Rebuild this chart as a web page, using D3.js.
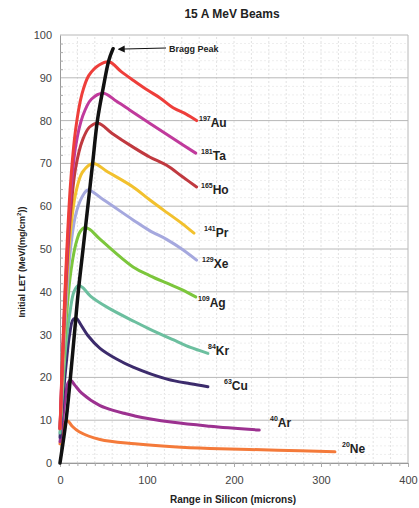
<!DOCTYPE html>
<html lang="en">
<head>
    <meta charset="UTF-8">
    <title>15 A MeV Beams</title>
    <script type="text/javascript" src="https://cdn.jsdelivr.net/npm/d3@7/dist/d3.min.js"></script>
    <style>
        body { margin: 0; background: #fff; }
        text { font-family: "Liberation Sans", Arial, sans-serif; }
    </style>
</head>
<body>

<script>
    let width = 419;
    let height = 508;

    // range (microns) vs initial LET
    var au = [[0, 8], [3, 26], [7, 46], [12, 65], [18, 78], [25, 86], [33, 90.5], [45, 93], [57, 93.7], [70, 91.5], [85, 89.3], [100, 87.2], [115, 85.3], [130, 83], [145, 81.5], [157, 80]];
    var ta = [[0, 8], [3, 25], [7, 44], [12, 62], [18, 74], [26, 81], [36, 85], [50, 86.4], [65, 84.5], [80, 82.5], [103, 79.4], [130, 75.8], [156, 72.4]];
    var ho = [[0, 8], [3, 24], [7, 42], [12, 58], [18, 69], [26, 75.5], [34, 78.5], [44, 79.4], [60, 77], [84, 73.8], [103, 71.5], [123, 69.5], [140, 67], [157, 64.5]];
    var pr = [[0, 8], [3, 22], [7, 40], [12, 54], [18, 63], [26, 68], [38, 70], [55, 68], [84, 64.5], [103, 61.5], [123, 58.5], [140, 56], [154, 53.7]];
    var xe = [[0, 8], [3, 21], [7, 37], [12, 50], [18, 58], [25, 62], [32, 63.8], [50, 61.5], [84, 56.8], [103, 54.3], [123, 52.2], [140, 50], [157, 47.4]];
    var ag = [[0, 8], [3, 19], [7, 33], [12, 44], [18, 51], [23, 54], [28, 55], [34, 54.6], [45, 52.5], [84, 45.8], [103, 43.8], [123, 42], [140, 40.5], [156, 38.8]];
    var kr = [[0, 7], [3, 17], [7, 28], [12, 36], [16, 40], [21, 41.5], [26, 41], [35, 39], [55, 36.3], [86, 33], [103, 31.3], [130, 28.8], [150, 27], [170, 25.6]];
    var cu = [[0, 6], [3, 14], [7, 23], [11, 30], [15, 33.5], [19, 33.8], [24, 32.3], [32, 29.8], [46, 26.8], [65, 24.3], [84, 22.4], [123, 19.6], [150, 18.5], [170, 17.8]];
    var ar = [[0, 5], [3, 10], [6, 15], [9, 18.6], [12, 19.4], [17, 18.2], [25, 16.3], [46, 13.4], [86, 11], [130, 9.5], [172, 8.6], [229, 7.7]];
    var ne = [[0, 4.5], [3, 7.5], [6, 9.5], [9, 9.8], [14, 8.6], [22, 7.3], [46, 5.5], [86, 4.5], [130, 3.8], [172, 3.4], [250, 3], [316, 2.6]];
    var bragg = [[0, 0], [7, 10], [12, 20], [16.5, 30], [21, 40], [26.5, 50], [32, 60], [37.5, 70], [43, 80], [50, 88], [56, 94], [61, 96.8]];

    var ions = [
        {mass: "197", sym: "Au", data: au, color: "#ee3e3a", lx: 199, ly: 127},
        {mass: "181", sym: "Ta", data: ta, color: "#c03a9c", lx: 201, ly: 160},
        {mass: "165", sym: "Ho", data: ho, color: "#c0393f", lx: 201, ly: 194},
        {mass: "141", sym: "Pr", data: pr, color: "#f2c12e", lx: 204, ly: 237},
        {mass: "129", sym: "Xe", data: xe, color: "#a5a8de", lx: 202, ly: 268},
        {mass: "109", sym: "Ag", data: ag, color: "#7cc63c", lx: 198, ly: 307},
        {mass: "84", sym: "Kr", data: kr, color: "#6cbf9f", lx: 208, ly: 355},
        {mass: "63", sym: "Cu", data: cu, color: "#3c2b6c", lx: 224, ly: 390},
        {mass: "40", sym: "Ar", data: ar, color: "#9c3190", lx: 270, ly: 427},
        {mass: "20", sym: "Ne", data: ne, color: "#f47a3a", lx: 342, ly: 453}
    ];

    var xTicks = [0, 100, 200, 300, 400];
    var yTicks = [0, 10, 20, 30, 40, 50, 60, 70, 80, 90, 100];

    var margin = {left: 60, right: 11, top: 35, bottom: 45};

    var svg = d3.select("body").append("svg")
        .attr("width", width)
        .attr("height", height);

    var x = d3.scaleLinear().domain([0, 400]).range([margin.left, width - margin.right]);
    var y = d3.scaleLinear().domain([0, 100]).range([height - margin.bottom, margin.top]);

    // faint dashed minor grid
    svg.append("g").selectAll("line")
        .data(d3.range(20, 400, 20))
        .enter().append("line")
        .attr("x1", d => x(d)).attr("x2", d => x(d))
        .attr("y1", y(0)).attr("y2", y(100))
        .attr("stroke", "#e2e2e2").attr("stroke-dasharray", "2,2");
    svg.append("g").selectAll("line")
        .data(d3.range(2, 100, 2).filter(d => d % 10 != 0))
        .enter().append("line")
        .attr("x1", x(0)).attr("x2", x(400))
        .attr("y1", d => y(d)).attr("y2", d => y(d))
        .attr("stroke", "#eeeeee").attr("stroke-dasharray", "2,2");

    // major horizontal grid
    svg.append("g").selectAll("line")
        .data(yTicks)
        .enter().append("line")
        .attr("x1", x(0)).attr("x2", x(400))
        .attr("y1", d => y(d)).attr("y2", d => y(d))
        .attr("stroke", "#b8b8b8").attr("stroke-width", 1);

    // right border
    svg.append("line")
        .attr("x1", x(400)).attr("x2", x(400))
        .attr("y1", y(0)).attr("y2", y(100))
        .attr("stroke", "#b8b8b8");

    // axes
    svg.append("g")
        .attr("transform", "translate(0," + y(0) + ")")
        .call(d3.axisBottom(x).tickValues(xTicks).tickSize(4).tickPadding(9));
    svg.append("g")
        .attr("transform", "translate(0," + y(0) + ")")
        .call(d3.axisBottom(x).tickValues(d3.range(10, 400, 10)).tickSize(3).tickFormat(""))
        .call(g => g.select(".domain").remove());
    svg.append("g")
        .attr("transform", "translate(" + x(0) + ",0)")
        .call(d3.axisLeft(y).tickValues(yTicks).tickSize(0).tickPadding(8));
    svg.append("g")
        .attr("transform", "translate(" + x(0) + ",0)")
        .call(d3.axisLeft(y).tickValues(d3.range(2, 100, 2).filter(d => d % 10 != 0)).tickSize(-3).tickFormat(""))
        .call(g => g.select(".domain").remove());

    svg.selectAll(".domain").attr("stroke", "#999");
    svg.selectAll(".tick line").attr("stroke", "#aaa");
    svg.selectAll(".tick text").attr("fill", "#444").attr("font-size", 11)
        .attr("font-family", "Liberation Sans, Arial, sans-serif");

    var line = d3.line()
        .x(d => x(d[0]))
        .y(d => y(d[1]))
        .curve(d3.curveCatmullRom.alpha(0.5));

    svg.append("g").selectAll("path")
        .data(ions.slice().reverse())
        .enter().append("path")
        .attr("d", d => line(d.data))
        .attr("fill", "none")
        .attr("stroke", d => d.color)
        .attr("stroke-width", 3)
        .attr("stroke-linecap", "round");

    svg.append("path")
        .attr("d", line(bragg))
        .attr("fill", "none")
        .attr("stroke", "#111")
        .attr("stroke-width", 3.5)
        .attr("stroke-linecap", "round");

    // ion labels
    var lab = svg.append("g").selectAll("text")
        .data(ions)
        .enter().append("text")
        .attr("x", d => d.lx)
        .attr("y", d => d.ly)
        .attr("font-weight", "bold")
        .attr("fill", "#222");
    lab.append("tspan")
        .attr("font-size", 7)
        .attr("dy", -6)
        .text(d => d.mass);
    lab.append("tspan")
        .attr("font-size", 12)
        .attr("dy", 6)
        .text(d => d.sym);

    // Bragg peak annotation
    svg.append("defs").append("marker")
        .attr("id", "arr")
        .attr("viewBox", "0 0 10 10")
        .attr("refX", 1).attr("refY", 5)
        .attr("markerWidth", 6).attr("markerHeight", 6)
        .attr("orient", "auto-start-reverse")
        .append("path").attr("d", "M0,0 L10,5 L0,10 z").attr("fill", "#111");
    svg.append("line")
        .attr("x1", 166).attr("y1", 48)
        .attr("x2", 124).attr("y2", 49)
        .attr("stroke", "#111").attr("stroke-width", 1.2)
        .attr("marker-end", "url(#arr)");
    svg.append("text")
        .attr("x", 169).attr("y", 52)
        .attr("font-size", 9).attr("font-weight", "bold").attr("fill", "#222")
        .text("Bragg Peak");

    // titles
    svg.append("text")
        .attr("x", 232).attr("y", 18)
        .attr("text-anchor", "middle")
        .attr("font-size", 12).attr("font-weight", "bold").attr("fill", "#222")
        .text("15 A MeV Beams");
    svg.append("text")
        .attr("x", 233).attr("y", 503)
        .attr("text-anchor", "middle")
        .attr("font-size", 10).attr("font-weight", "bold").attr("fill", "#222")
        .text("Range in Silicon (microns)");
    var yt = svg.append("text")
        .attr("transform", "translate(25,262) rotate(-90)")
        .attr("text-anchor", "middle")
        .attr("font-size", 9).attr("font-weight", "bold").attr("fill", "#222");
    yt.append("tspan").text("Initial LET (MeV/(mg/cm");
    yt.append("tspan").attr("font-size", 6).attr("dy", -4).text("2");
    yt.append("tspan").attr("dy", 4).text("))");
</script>

</body>
</html>
